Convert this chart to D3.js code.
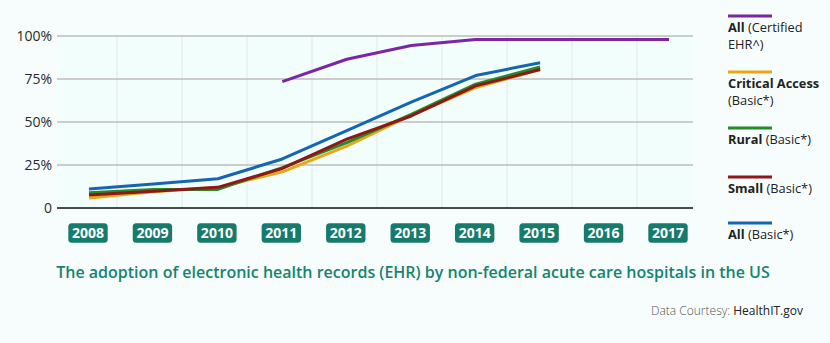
<!DOCTYPE html>
<html>
<head>
<meta charset="utf-8">
<script src="https://cdn.jsdelivr.net/npm/d3@7/dist/d3.min.js"></script>
<style>
  html, body { margin: 0; padding: 0; background: #f7fdfc; }
  svg { display: block; font-family: "Open Sans", sans-serif; }
</style>
</head>
<body>
<svg id="chart" width="830" height="343"></svg>
<script>
// Years on the x axis
const years = ["2008", "2009", "2010", "2011", "2012", "2013", "2014", "2015", "2016", "2017"];

// Adoption rates (%) per year; null where no figure was reported
const allCertified   = [null, null, null, 73.5, 86.5, 94.5, 98, 98, 98, 98];
const criticalAccess = [5.8, 9.5, 12, 21, 36, 54, 70, 80.5, null, null];
const rural          = [8.8, 10.8, 10.8, 23.5, 38, 54.5, 72, 82, null, null];
const small          = [7.6, 9.8, 12, 23, 40, 53.5, 71, 80.5, null, null];
const allBasic       = [11, 14, 17, 28.5, 45, 61.5, 77, 84.5, null, null];

const yTicks = [0, 25, 50, 75, 100];
const yTickLabels = ["0", "25%", "50%", "75%", "100%"];

const series = [
  { key: "allCertified",   values: allCertified,   color: "#7b25a8", bold: "All",             rest: " (Certified", line2: "EHR^)" },
  { key: "criticalAccess", values: criticalAccess, color: "#e9a813", bold: "Critical Access", rest: "",            line2: "(Basic*)" },
  { key: "rural",          values: rural,          color: "#268a2a", bold: "Rural",           rest: " (Basic*)",   line2: null },
  { key: "small",          values: small,          color: "#8d1719", bold: "Small",           rest: " (Basic*)",   line2: null },
  { key: "allBasic",       values: allBasic,       color: "#1565b2", bold: "All",             rest: " (Basic*)",   line2: null }
];

const svg = d3.select("#chart");
const plot = { left: 57, right: 693, top: 36, bottom: 208 };

const x = d3.scalePoint().domain(years).range([89, 669]);
const y = d3.scaleLinear().domain([0, 100]).range([plot.bottom, plot.top]);
// vertical guides sit between year columns
const xGrid = d3.scaleLinear().domain([0, 10]).range([52, 702]);

// plot background
svg.append("rect")
  .attr("x", plot.left).attr("y", plot.top)
  .attr("width", plot.right - plot.left).attr("height", plot.bottom - plot.top)
  .attr("fill", "#f2fefc");

// vertical grid
svg.append("g").selectAll("line")
  .data(d3.range(1, 10))
  .join("line")
  .attr("x1", d => xGrid(d)).attr("x2", d => xGrid(d))
  .attr("y1", plot.top).attr("y2", plot.bottom)
  .attr("stroke", "#e4e6e6").attr("stroke-width", 1);

// horizontal grid
svg.append("g").selectAll("line")
  .data(yTicks.filter(t => t > 0))
  .join("line")
  .attr("x1", plot.left).attr("x2", plot.right)
  .attr("y1", d => y(d)).attr("y2", d => y(d))
  .attr("stroke", "#bcbcbc").attr("stroke-width", 1.5);

// baseline
svg.append("line")
  .attr("x1", plot.left).attr("x2", plot.right)
  .attr("y1", y(0)).attr("y2", y(0))
  .attr("stroke", "#111").attr("stroke-width", 1.5);

// y axis labels
const yAxis = d3.axisLeft(y).tickValues(yTicks)
  .tickFormat((d, i) => yTickLabels[i]).tickSize(0).tickPadding(5);
const yg = svg.append("g").attr("transform", `translate(${plot.left},0)`).call(yAxis);
yg.select(".domain").remove();
yg.selectAll("text")
  .attr("fill", "#2a2a2a").style("font-size", "14px")
  .style("font-family", "'Open Sans', sans-serif");

// year labels in rounded boxes
const xl = svg.append("g").selectAll("g")
  .data(years)
  .join("g")
  .attr("transform", d => `translate(${x(d) - 1},233)`);
xl.append("rect")
  .attr("x", -19.7).attr("y", -9.7).attr("width", 39.4).attr("height", 19.4)
  .attr("rx", 3.5).attr("fill", "#177b6b");
xl.append("text")
  .attr("text-anchor", "middle").attr("dy", "0.36em")
  .attr("fill", "#fff").style("font-size", "14px").style("font-weight", "700")
  .text(d => d);

// lines
const line = d3.line()
  .defined(d => d.v != null)
  .x(d => x(d.year))
  .y(d => y(d.v));

svg.append("g").selectAll("path")
  .data(series)
  .join("path")
  .attr("d", s => line(s.values.map((v, i) => ({ year: years[i], v }))))
  .attr("fill", "none")
  .attr("stroke", s => s.color)
  .attr("stroke-width", 3)
  .attr("stroke-linejoin", "round");

// legend: swatch line, then a label that may wrap onto a second line
const legendY = [16, 72, 128, 177, 223];
const lg = svg.append("g").selectAll("g")
  .data(series)
  .join("g")
  .attr("transform", (d, i) => `translate(728,${legendY[i]})`);
lg.append("line")
  .attr("x1", 0).attr("x2", 44).attr("y1", 0).attr("y2", 0)
  .attr("stroke", d => d.color).attr("stroke-width", 3);
const lt = lg.append("text")
  .attr("y", 15.5)
  .attr("fill", "#222").style("font-size", "12.8px");
lt.append("tspan").style("font-weight", "700").text(d => d.bold);
lt.append("tspan").text(d => d.rest);
lg.filter(d => d.line2).append("text")
  .attr("y", 33)
  .attr("fill", "#222").style("font-size", "12.8px")
  .text(d => d.line2);

// title
svg.append("text")
  .attr("x", 413).attr("y", 278)
  .attr("text-anchor", "middle")
  .attr("fill", "#168370")
  .style("font-size", "16px")
  .style("font-weight", "600")
  .text("The adoption of electronic health records (EHR) by non-federal acute care hospitals in the US");

// source
const src = svg.append("text")
  .attr("x", 803).attr("y", 315)
  .attr("text-anchor", "end")
  .style("font-size", "12px");
src.append("tspan").attr("fill", "#555").style("font-weight", "300").text("Data Courtesy: ");
src.append("tspan").attr("fill", "#222").text("HealthIT.gov");
</script>
</body>
</html>
